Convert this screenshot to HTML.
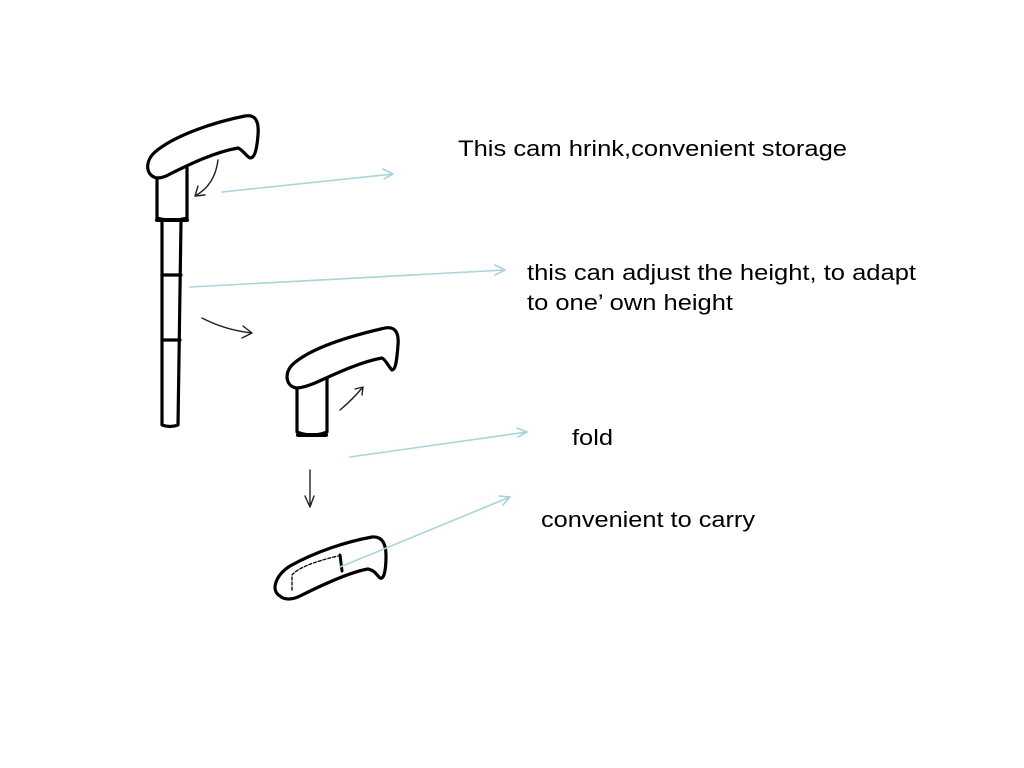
<!DOCTYPE html>
<html><head><meta charset="utf-8"><style>
html,body{margin:0;padding:0;background:#fff;width:1024px;height:768px;overflow:hidden}
svg{display:block}
text{font-family:"Liberation Sans",Arial,sans-serif;font-size:22px;fill:#000}
</style></head><body>
<svg width="1024" height="768" viewBox="0 0 1024 768" xmlns="http://www.w3.org/2000/svg">
<g fill="none" stroke="#000" stroke-width="3.2" stroke-linecap="round" stroke-linejoin="round">
<!-- handle 1 -->
<path d="M157,178 C146,176 144,162 155,152 C175,135 215,122 245,116 C256,114 259,122 258,135 C257,148 255,158 250,158 C246,156 243,150 238,148 C215,152 190,164 170,174 C165,177 160,178 157,178 Z"/>
<path d="M157,178 L157,218 Q172,222 187,218 L187,168"/>
<path d="M157,220 L187,220" stroke-width="4"/>
<path d="M162,222 L162,425 Q170,428 178,425 L181,222"/>
<path d="M162,275 L181,275 M162,340 L180,340"/>
<!-- handle 2 -->
<path d="M296,388 C286,386 284,374 292,365 C310,348 350,336 385,328 C396,326 399,334 398,345 C397,358 396,370 392,370 C388,366 386,360 382,358 C360,362 335,374 315,383 C305,387 300,388 296,388 Z"/>
<path d="M297,388 L297,432 Q312,438 327,432 L327,378"/>
<path d="M298,435 L326,435" stroke-width="4"/>
<!-- handle 3 -->
<path d="M280,596 C270,590 276,575 290,566 C315,552 345,542 372,537 C383,536 386,545 386,556 C386,570 384,580 380,578 C376,574 374,570 368,569 C350,572 320,586 300,596 C292,600 284,600 280,596 Z"/>
<path d="M292,590 L292,575 Q300,565 338,556" stroke-width="1.3" stroke-dasharray="3,2"/>
<path d="M340,555 L342,571" stroke-width="3"/>
</g>
<g fill="none" stroke="#222" stroke-width="1.4" stroke-linecap="round">
<path d="M218,160 Q215,185 195,196 M195,196 L198,186 M195,196 L205,195"/>
<path d="M202,318 Q225,330 252,333 M252,333 L243,326 M252,333 L242,338"/>
<path d="M340,410 Q352,400 363,387 M363,387 L355,389 M363,387 L362,395"/>
<path d="M310,470 L310,507 M310,507 L305,496 M310,507 L314,496"/>
</g>
<g fill="none" stroke="#a6d5da" stroke-width="1.6" stroke-linecap="round">
<path d="M222,192 L393,174 M393,174 L383,169 M393,174 L384,179"/>
<path d="M190,287 L505,270 M505,270 L495,265 M505,270 L495,275"/>
<path d="M350,457 L527,432 M527,432 L517,428 M527,432 L518,437"/>
<path d="M340,567 L510,497 M510,497 L499,496 M510,497 L503,505"/>
</g>
<text x="458" y="156" textLength="389" lengthAdjust="spacingAndGlyphs">This cam hrink,convenient storage</text>
<text x="527" y="280" textLength="389" lengthAdjust="spacingAndGlyphs">this can adjust the height, to adapt</text>
<text x="527" y="310" textLength="206" lengthAdjust="spacingAndGlyphs">to one’ own height</text>
<text x="572" y="445" textLength="41" lengthAdjust="spacingAndGlyphs">fold</text>
<text x="541" y="527" textLength="214" lengthAdjust="spacingAndGlyphs">convenient to carry</text>
</svg>
</body></html>
